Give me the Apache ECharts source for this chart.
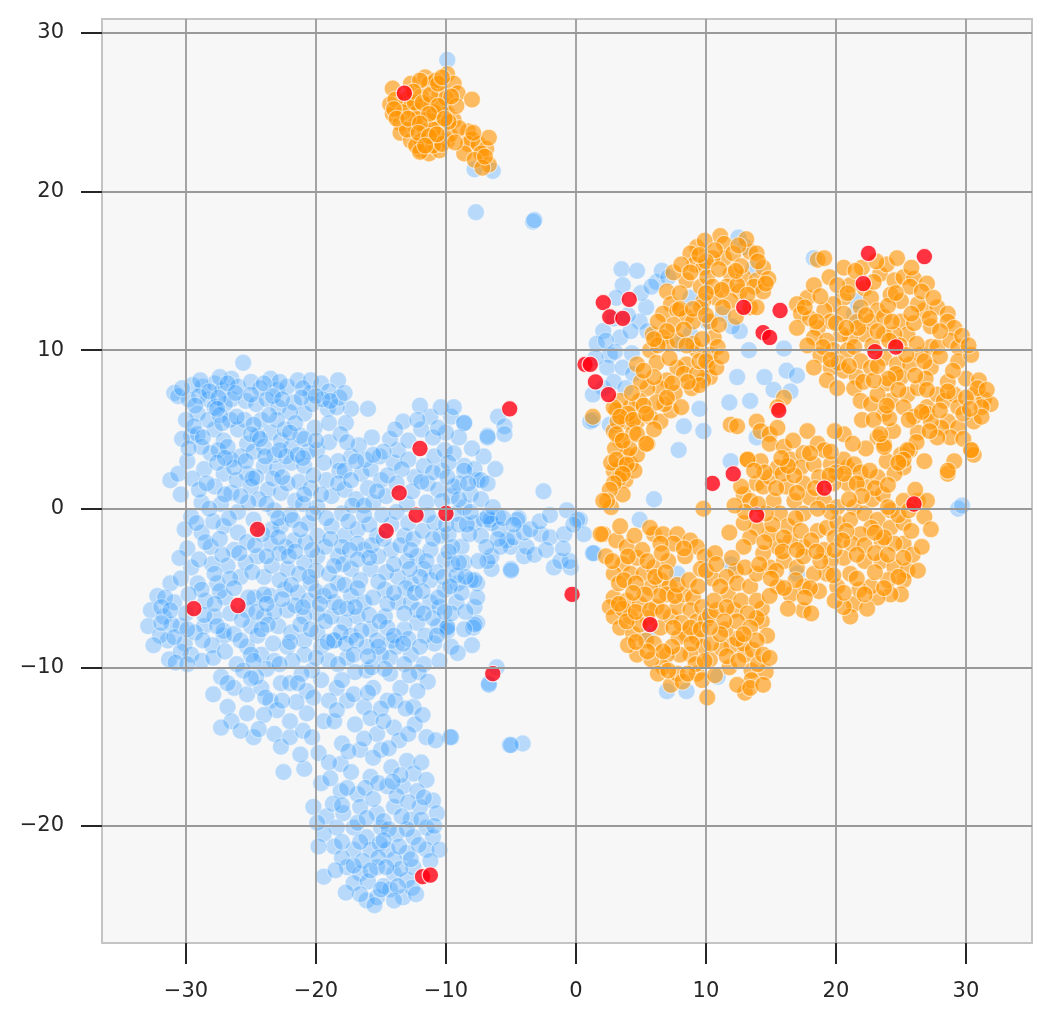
<!DOCTYPE html>
<html lang="en">
<head>
    <meta charset="UTF-8">
    <title>tsne scatter</title>
    <style>
        html, body {margin: 0; padding: 0; background: #ffffff;}
    </style>
</head>
<body>
<div id="chart" style="width: 1052px;height: 1024px"></div>
<script src="https://cdn.jsdelivr.net/npm/echarts@6/dist/echarts.min.js"></script>
<script>
    // axis ticks
    const xTicks = [-30, -20, -10, 0, 10, 20, 30]
    const yTicks = [-20, -10, 0, 10, 20, 30]

    // blue group (background points)
    const bluePoints = [
        [-30.9,7.3],[-30.6,7.1],[-25.6,9.2],[-28.7,7.7],[-27.8,7.9],[-26.5,8.2],[-27.2,7.5],[-28.3,6.9],[-29.1,6.0],[-27.8,6.4],[-26.5,6.9],[-26.0,7.7],
        [-23.5,8.2],[-23.0,7.5],[-22.2,7.7],[-21.4,8.1],[-20.4,8.1],[-20.4,7.3],[-21.7,6.7],[-20.9,6.0],[-19.1,6.3],[-18.3,8.1],[-17.3,6.3],
        [-29.6,4.6],[-29.1,4.7],[-27.8,5.0],[-27.1,4.3],[-26.0,5.0],[-25.3,4.1],[-24.2,5.6],[-23.5,4.8],[-22.7,4.3],[-21.9,3.9],[-21.2,4.6],[-22.4,5.0],[-24.5,4.6],[-25.8,3.3],[-26.5,3.1],[-28.1,3.5],[-28.6,2.5],[-31.2,1.8],[-30.6,2.2],
        [-27.1,2.2],[-25.3,2.2],[-24.0,2.7],[-23.0,2.5],[-21.9,2.9],[-20.9,2.7],[-19.9,3.7],[-23.7,1.2],[-22.7,1.0],[-22.2,1.6],[-26.5,1.0],[-27.8,1.4],[-28.8,0.4],
        [-19.9,0.1],[-18.8,0.8],[-17.8,1.2],[-17.3,3.3],[-16.5,2.2],[-15.8,2.5],[-15.0,1.8],[-14.0,2.9],[-13.7,3.7],[-12.9,4.3],[-12.9,3.1],[-12.4,2.0],[-11.7,2.7],[-11.4,1.6],[-10.6,1.2],[-10.9,3.3],[-10.1,3.7],[-9.6,5.8],[-11.2,5.8],[-10.4,6.4],[-9.4,6.4],[-8.6,5.4],[-6.8,4.6],[-6.0,5.8],[-5.5,5.2],[-7.6,1.8],[-8.6,2.7],[-9.6,0.8],[-8.6,0.1],[-7.8,-0.9],[-7.1,-0.7],[-6.5,-0.9],[-4.4,-0.6],[-5.0,-2.4],[-4.0,-3.0],[-5.0,-3.8],[-6.5,-3.8],[-7.6,-4.7],[-7.8,-6.2],[-7.6,-7.2],[-9.1,-4.7],[-10.1,-3.2],[-8.8,-2.4],[-10.4,-1.7],
        [-29.6,-0.5],[-30.1,-1.3],[-28.1,-2.4],[-27.1,-1.1],[-26.3,-2.6],[-26.8,-3.6],[-25.8,-4.3],[-27.6,-4.7],[-29.1,-4.7],[-31.2,-4.7],[-32.2,-5.5],[-32.7,-6.4],[-32.9,-7.4],[-31.7,-6.8],[-30.9,-5.9],[-30.4,-7.4],[-31.4,-8.3],[-30.1,-8.5],[-28.6,-7.4],[-27.8,-6.8],[-27.1,-8.0],[-25.3,-6.4],[-25.0,-7.4],[-24.0,-6.8],[-23.5,-5.5],[-24.0,-4.3],[-24.5,-3.0],[-23.5,-2.2],[-22.7,-1.1],[-21.7,-2.0],[-20.6,-0.9],[-19.9,-1.7],[-18.8,-1.1],[-17.8,-1.7],[-16.8,-1.3],[-16.3,-2.6],[-15.3,-1.7],[-14.2,-2.6],[-13.2,-1.7],[-12.2,-3.0],[-11.2,-2.6],[-11.7,-3.8],[-12.7,-4.7],[-13.7,-4.3],[-14.7,-5.1],[-15.8,-3.8],[-17.3,-3.8],[-18.3,-3.0],[-19.9,-3.0],[-20.9,-3.4],[-22.2,-3.8],[-22.4,-5.1],[-21.4,-5.3],[-20.4,-4.7],[-19.4,-5.5],[-18.3,-4.7],[-17.3,-5.5],[-16.3,-5.9],[-16.8,-6.8],[-17.8,-7.2],[-18.8,-6.8],[-19.9,-6.6],[-20.9,-6.8],[-22.2,-6.4],[-22.9,-7.4],[-21.9,-7.8],[-20.9,-8.3],[-19.9,-7.8],[-18.6,-8.3],[-17.3,-8.0],[-15.8,-7.6],[-14.7,-6.8],[-13.7,-5.9],[-12.7,-5.9],[-12.2,-7.2],[-13.2,-7.6],[-14.2,-8.3],[-11.2,-4.5],[-10.1,-5.1],[-11.2,-5.9],[-10.6,-7.4],[-9.9,-7.4],[-8.1,-4.5],[-6.5,-3.0],[-8.6,-3.4],
        [-7.1,3.3],[-7.8,2.5],[-7.3,-1.7],[-6.0,-0.5],
        [-29.6,-9.2],[-28.8,-9.6],[-27.3,-10.6],[-27.1,-7.7],[-25.3,-8.7],[-24.2,-9.2],[-23.2,-9.6],[-22.2,-8.7],[-20.9,-9.2],[-19.6,-8.7],[-18.6,-8.3],[-17.6,-9.4],[-16.1,-8.7],[-15.0,-9.2],[-13.8,-8.7],[-12.7,-9.2],[-11.7,-9.8],[-10.9,-8.5],[-7.9,-7.5],[-9.9,-7.7],
        [-26.3,-11.3],[-25.3,-11.7],[-24.2,-11.3],[-23.5,-12.1],[-22.7,-11.0],[-22.0,-11.0],[-25.3,-12.9],[-26.8,-12.5],[-26.5,-13.4],[-24.8,-14.4],[-23.2,-14.2],[-22.7,-15.0],[-22.0,-14.4],[-20.7,-12.9],[-19.4,-13.4],[-18.6,-13.4],[-20.7,-11.5],[-19.6,-10.8],[-18.4,-11.3],[-17.6,-12.1],[-16.3,-12.5],[-15.6,-11.3],[-14.5,-12.1],[-13.5,-11.3],[-12.5,-12.5],[-14.3,-10.4],[-16.1,-10.2],[-15.3,-14.2],[-14.0,-13.8],[-11.5,-14.4],[-9.7,-14.4],
        [-22.5,-16.6],[-20.9,-16.4],[-18.1,-16.1],[-16.6,-15.2],[-15.0,-15.2],[-13.0,-15.9],[-12.5,-16.7],[-11.5,-17.1],[-11.0,-18.4],[-10.7,-19.2],[-12.0,-18.8],[-13.3,-17.5],[-14.5,-17.5],[-15.8,-16.9],[-16.8,-18.0],[-18.1,-17.8],[-19.6,-17.3],[-20.2,-18.8],[-19.2,-19.4],[-17.9,-19.2],[-16.6,-18.8],[-15.3,-19.2],[-14.0,-18.8],[-12.7,-19.6],[-11.5,-20.1],[-11.0,-20.7],[-12.5,-20.7],[-13.8,-20.5],[-15.0,-20.1],[-16.1,-20.7],[-17.1,-20.1],[-18.4,-20.1],[-19.4,-20.5],[-18.6,-21.3],[-17.1,-21.5],[-15.8,-21.5],[-14.5,-21.5],[-13.0,-21.7],[-11.5,-21.5],[-10.5,-21.5],[-17.6,-22.6],[-16.6,-23.0],[-15.3,-22.6],[-14.0,-23.0],[-13.0,-23.4],[-12.5,-22.6],[-19.4,-23.2],[-16.1,-24.7],[-15.3,-24.5],[-13.3,-24.5],[-14.8,-23.8],[-17.1,-23.6],
        [-5.1,-14.9],[-4.1,-14.8],[-6.7,-11.0],[-6.1,-10.0],
        [-8.6,5.4],[-6.8,4.5],[-5.5,4.7],[-9.4,3.5],[-8.6,2.4],[-7.3,1.8],[-6.8,1.6],[-2.5,1.1],[-8.1,0.9],[-6.6,-0.7],[-4.5,-0.7],[-5.3,-2.0],[-4.8,-1.8],[-3.8,-2.4],[-5.0,-3.9],[-2.7,-1.6],[-2.0,-1.8],[-0.9,-1.6],[-0.7,-0.1],[0.3,-0.7],[1.4,-2.8],[-1.7,-3.7],[-1.2,-3.3],[-0.4,-3.7],[-7.8,-4.5],[-7.6,-5.6],[-7.8,-7.3],[-9.9,-7.5],[-6.8,-0.5],[-5.8,-2.4],[-6.8,-3.3],[-6.7,-11.1],[-9.6,-14.4],[-5.0,-14.9],
        [-9.9,28.3],[-7.8,21.4],[-6.4,21.3],[-7.7,18.7],[-3.3,18.1],[-3.2,18.2],
        [3.5,15.1],[4.7,15.0],[3.6,14.1],[6.2,14.3],[5.4,12.7],[4.9,11.8],[2.1,11.2],[1.6,10.4],[2.6,9.7],[3.4,10.8],[4.2,11.2],[2.4,8.9],[3.6,8.9],[4.4,8.5],[2.1,7.6],[1.3,7.2],[1.1,5.5],[2.6,5.3],[5.5,11.2],[8.0,10.4],[10.1,11.8],[8.8,11.0],[12.5,17.1],[13.0,16.5],[13.7,15.2],[18.3,15.8],[12.6,11.2],[12.4,8.3],[13.4,6.8],[16.2,8.7],[17.0,8.4],[16.5,7.4],[9.8,4.9],[7.9,3.7],[11.9,3.0],[13.9,4.5],[21.4,12.3],[21.6,13.1],
        [1.3,5.6],[6.0,0.6],[29.4,0.0],[29.7,0.2],[0.1,-0.7],[0.6,-1.6],[1.3,-2.8],[-0.5,-3.3],[4.9,-0.7],[7.8,-4.1],[11.9,-3.5],[17.0,-4.1],[10.9,-10.6],[7.0,-11.5],[8.5,-11.5],[5.5,-7.9],
        [-29.5,7.8],[-28.9,8.1],[-27.4,8.3],[-26.8,7.9],[-25.0,8.0],[-24.3,7.6],[-22.8,8.0],[-21.0,7.6],[-19.6,7.9],[-19.0,7.4],
        [-29.8,6.9],[-29.0,7.1],[-27.0,6.6],[-25.4,6.8],[-24.6,6.6],[-23.8,6.9],[-22.9,6.4],[-22.0,6.1],[-20.3,6.6],[-19.5,6.9],[-18.4,6.4],
        [-30.0,5.6],[-28.3,5.6],[-27.4,5.9],[-26.6,5.6],[-25.5,5.6],[-24.8,5.3],[-23.0,5.6],[-21.6,5.4],[-20.1,5.1],[-19.0,5.4],[-16.0,6.3],
        [-30.3,4.4],[-28.8,3.9],[-27.5,3.7],[-26.8,3.9],[-24.8,3.6],[-24.0,3.9],[-23.2,3.4],[-22.3,3.3],[-20.6,3.6],[-19.0,4.2],[-18.3,3.0],
        [-29.5,1.9],[-29.0,1.2],[-26.1,1.8],[-25.0,1.4],[-24.4,0.6],[-23.3,1.9],[-21.3,1.7],[-20.4,1.3],[-21.6,0.5],[-19.2,1.8],[-18.2,2.4],[-16.9,0.6],[-16.0,1.3],
        [-27.3,0.3],[-26.0,-0.2],[-25.2,0.4],[-23.2,-0.1],[-22.0,-0.4],[-21.0,0.3],[-18.0,-0.3],[-17.2,0.2],[-15.6,0.4],[-14.6,0.8],[-13.0,0.3],[-11.5,0.4],[-9.2,-0.3],
        [-28.8,-1.5],[-27.9,-0.8],[-26.0,-1.5],[-25.3,-2.1],[-23.4,-1.3],[-22.3,-2.4],[-20.8,-2.1],[-19.3,-2.4],[-18.0,-2.4],[-16.8,-2.2],[-15.9,-1.0],[-14.2,-1.0],[-13.5,-2.3],[-12.5,-1.9],[-11.8,-1.4],[-10.9,-0.9],[-9.8,-1.6],
        [-29.6,-3.7],[-28.0,-3.5],[-27.2,-2.9],[-25.4,-3.4],[-23.4,-3.6],[-22.8,-2.8],[-21.3,-4.1],[-20.0,-3.9],[-19.0,-4.1],[-17.9,-3.5],[-16.6,-4.5],[-15.2,-3.0],[-14.6,-4.0],[-13.0,-3.3],[-12.0,-4.3],[-10.7,-4.0],[-9.5,-3.5],
        [-31.6,-5.6],[-30.0,-6.6],[-28.5,-5.8],[-27.0,-5.6],[-26.6,-6.6],[-24.7,-5.6],[-23.2,-6.5],[-21.6,-6.1],[-20.6,-5.8],[-18.6,-5.9],[-17.6,-6.3],[-15.6,-5.6],[-14.5,-6.0],[-13.1,-5.0],[-12.2,-6.4],[-10.5,-6.2],[-9.2,-5.9],
        [-32.0,-8.0],[-31.1,-7.3],[-29.3,-7.8],[-28.0,-8.6],[-26.3,-7.9],[-24.5,-8.0],[-23.7,-7.3],[-21.2,-7.3],[-19.3,-7.1],[-18.1,-7.8],[-16.5,-7.7],[-15.3,-8.3],[-14.5,-7.5],[-12.9,-8.2],[-11.6,-8.0],[-11.0,-6.9],
        [-31.3,-9.5],[-30.4,-9.0],[-26.1,-9.8],[-25.0,-9.2],[-23.8,-10.1],[-21.8,-9.6],[-20.3,-10.2],[-19.0,-9.6],[-17.0,-10.3],[-15.7,-10.0],[-14.3,-9.4],[-13.2,-9.8],[-12.1,-10.3],[-10.5,-9.6],
        [-24.6,-10.6],[-23.0,-12.7],[-21.5,-12.2],[-21.0,-14.0],[-24.0,-13.0],[-25.8,-14.0],[-17.0,-13.6],[-16.3,-14.5],[-13.6,-14.6],[-12.4,-13.6],[-18.0,-14.8],[-19.8,-15.4],[-14.2,-16.3],[-17.3,-16.6],[-16.2,-17.6],[-13.8,-18.1],[-18.7,-18.6],[-15.6,-18.3],[-12.2,-17.8],[-14.8,-19.7],[-16.8,-19.8],[-13.0,-20.2],[-12.1,-21.2],[-14.0,-22.1],[-15.1,-21.1],[-16.4,-22.2],[-18.0,-22.0],[-13.5,-22.7],[-16.0,-23.5],[-14.3,-24.0],[-12.6,-23.9],[-15.5,-25.0],
        [-9.0,4.5],[-10.0,4.8],[-11.9,5.0],[-10.3,2.4],[-9.0,1.6],[-8.0,3.8],[-6.2,2.5],[-5.9,-1.3],[-4.0,-1.5],[-3.2,-2.9],[-2.3,-2.6],[-1.0,-2.5],[-0.2,-1.0],[-8.2,-1.6],[-9.5,-2.4],[-8.8,-5.3],[-9.6,-6.6],[-8.5,-6.5],[-12.0,6.5],[-13.3,5.5],[-14.3,4.4],[-15.7,4.5],[-16.7,4.0],[-17.7,5.4],[-18.2,7.0],
        [2.9,12.0],[3.1,13.3],[4.0,12.2],[5.0,13.6],[5.8,14.0],[6.6,15.0],[2.3,10.6],[3.0,9.9],[4.3,9.8],[1.5,9.5],[2.9,8.0],[3.8,7.6],[7.1,14.6],[8.8,13.3],[11.3,12.3],[12.0,11.5],[13.3,10.0],[16.0,10.1],[14.5,8.3],[15.2,7.5],[11.8,6.7],[9.5,6.3],[8.3,5.2],
        [-29.9,3.0],[-27.6,2.9],[-26.3,2.6],[-24.6,2.0],[-22.6,2.0],[-21.4,3.4],[-20.2,2.1],[-19.4,2.9],[-17.8,2.4],[-16.2,3.1],[-15.1,3.3],[-14.5,2.1],[-13.4,2.5],[-11.0,2.3],[-9.8,2.9],[-9.4,1.4],
        [-30.4,0.9],[-28.4,1.6],[-27.0,0.9],[-25.8,0.8],[-24.9,1.9],[-23.8,0.3],[-22.9,-0.6],[-20.9,0.9],[-19.6,0.9],[-18.3,1.6],[-17.3,1.8],[-16.3,0.2],[-15.3,1.1],[-13.8,1.6],[-12.6,1.1],[-11.9,1.7],[-10.3,0.5],[-9.0,0.6],
        [-29.2,-0.9],[-28.2,0.0],[-26.7,-0.6],[-24.8,-0.7],[-24.1,-1.6],[-21.8,-0.7],[-20.2,-0.3],[-19.2,-0.6],[-17.5,-0.8],[-16.3,-0.4],[-14.9,-0.4],[-13.8,-0.2],[-12.9,-0.9],[-11.4,-0.4],[-10.0,-1.0],[-9.0,-1.0],
        [-29.9,-2.5],[-28.5,-2.1],[-27.4,-1.9],[-25.9,-2.8],[-24.7,-2.3],[-22.9,-1.8],[-21.2,-1.3],[-20.3,-2.6],[-18.9,-1.9],[-17.4,-2.6],[-15.7,-2.3],[-14.8,-1.9],[-12.7,-2.6],[-11.0,-1.9],[-9.8,-2.7],[-8.4,-1.0],
        [-30.5,-3.1],[-29.0,-3.2],[-27.8,-4.1],[-26.6,-4.4],[-24.9,-4.0],[-23.8,-3.0],[-22.1,-3.0],[-21.6,-2.7],[-20.5,-4.3],[-18.6,-3.6],[-16.8,-3.2],[-15.9,-3.1],[-14.0,-3.5],[-12.8,-3.8],[-11.5,-3.3],[-10.2,-4.3],[-9.2,-4.2],
        [-30.4,-4.4],[-28.8,-5.1],[-27.4,-5.2],[-26.3,-5.0],[-25.2,-5.6],[-24.0,-5.4],[-22.8,-4.5],[-21.9,-4.8],[-20.0,-5.2],[-18.9,-5.2],[-17.8,-4.8],[-16.8,-5.0],[-15.2,-4.6],[-14.0,-5.3],[-12.4,-5.3],[-11.8,-5.2],[-10.6,-5.6],[-9.7,-4.9],
        [-31.9,-6.2],[-31.2,-6.4],[-29.8,-5.4],[-28.6,-6.7],[-27.8,-6.0],[-25.7,-7.0],[-24.6,-6.5],[-23.8,-6.0],[-22.6,-5.7],[-21.0,-6.2],[-19.7,-6.0],[-18.2,-6.2],[-17.0,-6.2],[-15.9,-6.7],[-15.1,-7.1],[-13.2,-6.6],[-11.7,-6.6],[-10.1,-6.5],
        [-32.5,-8.6],[-31.9,-7.2],[-30.9,-8.1],[-29.9,-7.6],[-28.7,-8.3],[-27.6,-7.4],[-25.8,-8.3],[-24.2,-7.6],[-23.3,-8.5],[-22.0,-8.4],[-20.4,-7.6],[-19.1,-8.4],[-17.7,-8.5],[-16.9,-8.3],[-15.2,-8.7],[-14.0,-8.0],[-13.3,-8.5],[-12.0,-8.7],[-10.7,-8.0],
        [-30.8,-9.7],[-29.9,-9.8],[-27.9,-9.4],[-27.0,-9.0],[-25.6,-10.2],[-24.8,-9.6],[-22.8,-9.8],[-21.1,-10.4],[-20.0,-9.4],[-18.3,-9.8],[-17.1,-9.2],[-16.0,-9.3],[-14.7,-10.1],[-12.8,-10.5],[-11.4,-10.9],[-9.6,-8.7],
        [-27.9,-11.7],[-26.8,-11.0],[-25.0,-10.7],[-23.9,-11.9],[-22.6,-12.1],[-21.4,-11.0],[-20.2,-11.9],[-19.0,-12.1],[-18.0,-10.8],[-17.1,-11.7],[-16.0,-11.6],[-15.0,-12.6],[-13.9,-12.1],[-13.1,-12.6],[-12.2,-11.5],[-11.8,-13.0],[-27.3,-13.8],[-24.4,-13.9],[-22.0,-13.4],[-20.3,-14.4],[-18.4,-12.7],[-15.8,-13.2],[-14.8,-13.4],[-12.9,-14.2],[-10.8,-14.6],
        [-21.2,-15.5],[-19.0,-16.0],[-17.5,-15.3],[-15.6,-15.7],[-14.4,-15.1],[-13.5,-16.8],[-11.9,-16.0],[-18.9,-17.0],[-17.6,-17.6],[-15.2,-17.3],[-14.1,-17.2],[-12.9,-18.5],[-11.7,-18.2],[-19.9,-19.8],[-18.0,-18.7],[-16.1,-19.5],[-14.4,-20.2],[-13.4,-19.4],[-11.9,-19.6],[-10.9,-20.0],[-19.8,-21.3],[-18.0,-21.0],[-16.6,-21.0],[-15.2,-22.0],[-14.8,-20.9],[-13.6,-21.3],[-12.7,-22.1],[-11.2,-22.2],[-18.5,-22.8],[-17.1,-22.5],[-15.8,-22.8],[-14.6,-22.6],[-13.7,-23.8],[-16.6,-24.3],[-15.0,-24.0],[-14.0,-24.7],[-17.7,-24.2],[-12.3,-24.3],
        [-30.3,7.6],[-29.3,6.5],[-28.2,7.4],[-27.5,7.0],[-26.2,7.3],[-25.0,7.2],[-24.0,7.9],[-23.3,7.1],[-22.6,6.9],[-21.1,7.0],[-20.0,7.1],[-18.9,6.8],[-17.8,7.3],[-29.4,5.2],[-28.7,4.5],[-27.2,5.4],[-26.1,5.8],[-25.0,4.7],[-24.3,4.4],[-23.6,5.9],[-22.0,4.8],[-20.9,4.4],[-20.0,4.3],[-18.1,4.7],[-29.8,3.8],[-27.0,3.2],[-25.4,3.0],[-23.9,3.3],[-22.8,3.7],[-21.0,3.2],[-27.6,6.3],
        [-12.2,5.6],[-11.0,4.5],[-10.6,5.1],[-9.9,2.0],[-8.3,1.6],[-8.1,-0.2],[-7.3,0.6],[-6.4,0.1],[-5.6,-0.6],[-4.8,-1.0],[-3.5,-1.3],[-2.8,-0.8],[-2.0,-0.4],[-6.0,-1.9],[-6.9,-2.4],[-7.5,-3.3],[-8.5,-4.3],[-9.0,-3.4],[-8.6,-7.6],[-8.0,-8.6],[-9.1,-9.1],[-14.8,3.6],[-15.6,3.4],[-16.9,3.0],[-17.6,4.2],[-13.9,5.0]
    ]

    // orange group
    const orangePoints = [
        [-14.1,26.5],[-14.3,25.5],[-14.1,24.9],[-13.5,24.3],[-13.5,23.7],[-12.7,26.8],[-11.6,27.2],[-11.3,26.8],[-9.9,27.4],[-9.4,26.8],[-9.1,26.2],[-10.5,26.2],[-11.9,26.0],[-12.7,25.3],[-12.1,25.1],[-11.3,25.5],[-10.2,25.5],[-9.9,24.9],[-10.5,24.7],[-11.6,24.5],[-12.4,24.1],[-11.6,23.8],[-10.5,24.1],[-9.4,24.5],[-12.7,23.2],[-11.9,23.2],[-10.8,23.4],[-9.9,23.2],[-9.7,23.6],[-11.9,22.6],[-11.3,22.4],[-10.5,22.6],[-8.3,23.8],[-8.0,23.3],[-8.3,23.0],[-7.5,23.0],[-6.9,22.7],[-7.3,22.4],[-6.7,23.4],[-6.7,21.7],[-8.0,25.8],
        [-13.0,25.8],[-10.8,27.0],[-12.3,24.6],[-10.0,25.9],[-11.0,23.9],[-13.9,25.8],
        [-13.3,25.0],[-12.0,27.0],[-10.9,25.0],[-9.2,25.4],[-11.0,22.9],[-12.3,22.9],[-9.0,24.0],[-13.0,23.9],[-10.3,23.0],[-8.6,22.4],[-7.8,22.0],[-7.2,21.5],
        [-14.0,25.2],[-13.8,24.6],[-12.9,24.6],[-12.4,25.6],[-12.5,26.3],[-11.8,25.6],[-11.2,26.1],[-10.6,26.8],[-10.3,27.2],[-9.6,26.0],[-9.8,24.4],[-10.6,25.4],[-11.3,24.9],[-12.0,24.3],[-12.1,23.7],[-11.3,23.5],[-10.1,24.6],[-9.3,23.1],[-10.7,23.6],[-12.0,22.5],[-11.6,22.9],[-7.9,23.7],[-7.0,22.2],
        [11.1,17.2],[11.4,16.7],[9.3,16.5],[8.8,16.1],[9.1,15.4],[9.8,15.2],[8.5,14.4],[9.6,14.0],[10.1,14.6],[11.4,15.8],[12.1,16.1],[13.4,16.2],[13.9,16.1],[11.9,14.8],[12.9,14.6],[13.9,14.4],[14.4,15.2],[11.6,14.0],[12.6,13.7],[13.7,14.0],[14.4,13.7],[10.8,13.3],[11.9,13.1],[13.4,12.7],[13.9,12.7],
        [7.0,13.7],[7.3,12.9],[6.7,12.3],[7.8,12.5],[8.5,12.1],[9.8,13.1],[9.6,12.7],[10.3,11.8],[7.5,11.6],[5.9,11.0],[6.7,10.8],[7.0,10.4],[7.8,10.6],[9.3,10.0],[10.6,10.8],[10.3,9.7],[10.1,8.9],[10.3,8.3],[9.8,8.1],[8.5,9.1],[7.8,8.9],[7.0,8.1],[6.5,7.6],[8.3,8.5],[9.3,8.5],[4.7,9.1],[5.7,10.0],[5.5,7.6],[4.9,6.8],[4.2,6.4],[3.4,6.8],[3.1,6.2],[3.9,5.5],[4.7,5.5],[5.7,5.8],[6.5,5.5],[7.3,6.2],[2.9,4.9],[3.4,4.3],[3.9,3.4],[5.5,4.1],[4.2,2.8],[3.4,2.6],[1.3,5.8],
        [10.5,15.8],[12.7,15.3],[13.1,17.0],[8.0,13.6],[9.0,11.8],[11.3,12.7],[12.3,12.1],[10.9,10.2],[9.5,9.3],[8.9,7.6],[7.6,7.3],[6.2,9.2],[5.0,8.0],[4.3,7.3],[6.8,6.6],[8.1,6.4],[3.8,1.8],[2.9,2.4],[4.7,3.4],[7.5,14.9],[9.9,16.9],[8.1,15.4],[14.8,14.5],[14.0,15.6],[12.4,14.1],[10.5,14.0],[6.3,11.8],[7.2,9.5],[9.0,10.4],
        [10.7,16.3],[12.5,16.6],[10.0,15.6],[9.5,16.0],[11.0,15.1],[12.3,15.0],[13.2,13.5],[14.6,14.2],[11.2,13.8],[10.0,13.6],[8.8,14.9],[8.0,12.6],[9.0,12.6],[10.0,12.2],[11.0,11.6],[8.3,11.3],[7.0,11.2],[6.3,10.3],[6.0,10.7],[8.5,10.3],[9.7,10.7],[10.0,9.3],[9.5,7.8],[8.6,8.0],[7.4,7.9],[6.0,8.3],[5.2,8.7],[6.2,6.7],[5.2,6.5],[4.0,6.0],[3.2,5.5],[4.4,4.8],[4.1,3.8],[3.0,3.8],[2.7,2.9],[3.3,1.9],[4.5,2.4],[2.7,0.1],[3.6,0.9],[6.0,5.0],[7.0,7.0],[10.8,8.9],[11.2,9.6],
        [11.9,5.3],[12.4,5.2],[13.9,5.5],[14.2,4.9],[14.9,4.7],[15.5,5.1],[16.0,7.0],[15.5,6.4],[17.8,4.9],[13.2,3.1],[14.2,3.0],
        [18.6,15.7],[19.1,15.8],[20.6,15.2],[22.2,13.9],[22.7,13.3],[23.4,14.8],[23.9,15.4],[24.5,14.4],[25.2,14.6],[26.0,14.5],[27.0,14.2],[25.7,14.0],[24.2,13.5],[25.0,13.1],[26.8,12.5],[26.3,12.9],[27.8,12.7],[28.6,12.3],[28.6,11.8],[29.1,11.4],[23.2,12.5],[21.9,12.7],[20.6,13.3],[19.8,12.9],[17.8,13.3],[17.0,12.9],[17.3,12.3],[19.1,12.5],[19.6,11.8],[20.6,12.3],[21.6,11.8],[22.7,11.8],[23.7,12.1],[25.0,11.8],[25.5,11.0],[24.5,11.0],[23.7,11.0],[22.2,11.0],[21.1,10.8],[20.4,11.0],[18.6,11.4],[18.3,10.8],[19.3,10.6],[17.0,11.4],[18.8,9.7],[19.8,10.0],[20.9,10.0],[21.4,10.2],[21.9,9.3],[22.7,8.9],[23.7,9.5],[24.7,9.1],[25.7,9.1],[26.5,9.7],[27.3,10.2],[27.8,10.2],[28.8,10.6],[29.4,10.2],[29.4,9.3],[30.4,9.7],[27.3,8.9],[18.3,8.9],[19.6,8.9],[20.6,8.7],[21.6,8.3],[19.3,8.1],[20.1,7.6],[21.4,7.6],[21.9,6.8],[23.9,7.9],[25.0,8.3],[25.5,7.2],[26.3,7.6],[24.2,6.8],[25.2,6.4],[26.0,5.8],[27.0,6.4],[27.8,7.2],[28.3,6.8],[29.1,7.2],[29.4,6.4],[30.6,7.2],[31.4,6.9],[31.9,6.6],[31.2,6.4],[30.6,5.5],[28.6,5.5],[28.1,5.1],[29.4,5.1],[28.8,4.5],[27.8,4.5],[30.4,3.7],[30.6,3.4],[27.0,6.0],[23.7,6.0],[22.7,6.6],[23.2,4.5],[23.7,4.1],[25.0,3.4],[25.7,3.7],[25.2,2.6],[28.6,2.2],[20.6,4.7],[20.9,2.6],
        [18.0,12.0],[18.3,14.1],[19.5,14.6],[21.1,14.1],[22.0,15.2],[24.7,15.8],[24.0,12.8],[26.0,11.7],[27.3,11.5],[28.0,9.6],[26.2,10.4],[24.9,10.3],[22.8,10.3],[21.7,11.4],[20.0,11.7],[19.0,10.2],[20.2,9.2],[22.1,8.0],[23.2,7.2],[24.6,8.5],[26.9,8.2],[28.6,8.0],[30.0,8.2],[29.8,6.0],[27.3,5.5],[26.3,4.8],[24.4,4.9],[24.1,5.7],[22.0,5.6],[31.0,8.1],[29.1,3.0],[26.8,3.0],[23.9,3.0],[22.3,3.8],[21.3,4.1],
        [17.6,12.7],[18.8,13.4],[20.1,14.1],[20.9,13.6],[21.5,15.0],[22.9,14.3],[23.1,15.6],[25.8,15.2],[24.6,13.6],[26.6,13.7],[27.5,13.3],[27.2,12.0],[28.0,11.2],[29.7,10.9],[30.2,10.3],[29.0,8.7],[30.9,7.6],[30.0,7.0],[28.6,7.4],[27.0,7.5],[26.1,8.4],[24.0,8.2],[22.9,8.1],[21.0,9.0],[19.6,9.4],[17.8,10.3],[18.5,11.8],[20.8,11.4],[22.3,12.2],[23.2,11.2],[24.3,11.8],[25.8,12.3],[24.1,10.6],[25.4,9.7],[26.8,9.3],[23.2,9.0],[24.8,7.5],[22.9,5.6],[23.9,6.5],[25.6,5.6],[26.6,6.1],[28.0,6.2],[27.2,4.9],[26.2,4.2],[29.8,4.4],[31.2,5.8],[31.6,7.5],[30.3,6.3],
        [2.9,6.4],[3.4,5.8],[4.4,5.6],[5.4,6.0],[3.1,4.7],[3.6,4.3],[4.7,4.7],[5.4,4.1],[3.1,3.1],[3.9,2.8],[3.6,2.2],[2.9,1.6],[2.6,1.2],[2.4,0.5],[2.1,0.5],[9.8,0.0],
        [2.1,-1.6],[3.1,-2.0],[3.9,-2.4],[4.7,-3.1],[3.6,-3.5],[2.9,-4.1],[4.2,-4.1],[5.2,-4.1],[6.0,-3.7],[6.5,-4.5],[7.2,-4.9],[2.9,-5.6],[2.6,-6.2],[3.9,-5.8],[4.9,-6.0],[6.2,-6.2],[7.0,-5.4],[2.9,-6.8],[3.4,-7.5],[4.2,-6.8],[4.4,-7.9],[4.7,-9.2],[5.4,-8.3],[6.5,-7.5],[7.3,-6.8],[7.8,-6.2],[8.3,-5.4],[9.0,-5.6],[8.8,-6.4],[9.3,-7.1],[8.5,-7.9],[9.3,-8.1],[9.8,-8.7],[8.8,-9.2],[8.0,-9.2],[7.0,-9.2],[6.7,-10.0],[7.3,-11.1],[7.8,-10.4],[9.3,-10.4],[10.3,-9.5],[10.1,-11.9],
        [6.0,-1.6],[5.7,-1.2],[6.7,-1.6],[7.8,-1.6],[8.8,-2.0],[9.3,-2.4],[7.5,-2.2],[6.5,-2.2],[1.9,-1.6],
        [3.4,-1.1],[4.5,-1.7],[5.1,-2.6],[4.0,-3.0],[2.3,-3.0],[3.3,-4.7],[5.7,-5.0],[6.4,-5.5],[5.5,-6.9],[3.6,-6.3],[4.9,-7.3],[6.0,-8.5],[7.9,-8.1],[8.1,-7.2],[7.6,-5.5],[9.7,-6.2],[10.0,-7.0],[9.2,-9.8],[8.2,-10.9],[5.8,-9.5],[4.0,-8.6],[7.1,-3.3],[8.4,-3.0],[9.9,-3.0],[10.5,-4.4],[12.0,-8.6],[13.0,-9.2],[13.5,-10.2],[11.2,-8.8],[11.8,-10.0],[12.2,-6.4],[14.3,-7.1],[14.6,-10.3],[13.0,-11.6],
        [2.8,-3.3],[3.7,-4.5],[4.6,-4.7],[5.5,-3.3],[6.1,-4.3],[6.9,-4.0],[7.8,-4.8],[8.7,-4.5],[9.4,-4.9],[9.6,-3.8],[8.3,-2.5],[6.6,-2.8],[5.3,-5.4],[4.4,-5.3],[3.3,-6.0],[3.9,-7.1],[4.6,-6.5],[5.7,-6.4],[6.7,-6.5],[7.5,-7.5],[8.8,-7.5],[9.6,-7.6],[10.3,-6.7],[10.4,-8.5],[9.9,-9.6],[8.9,-8.5],[7.4,-8.7],[6.7,-9.0],[5.5,-9.0],[4.6,-8.4],[6.3,-10.4],[7.1,-10.2],[8.6,-10.4],[9.7,-10.8],[10.7,-10.5],[11.6,-9.3],[12.5,-9.6],[12.9,-8.5],[13.6,-8.9],[12.4,-8.2],[11.5,-7.6],[10.8,-6.4],[11.7,-5.4],[12.3,-3.9],[10.7,-2.8],[10.0,-3.9],[14.3,-6.3],[14.7,-8.0],[14.0,-9.8],[13.5,-10.8],[13.9,-6.9],
        [10.8,-3.5],[11.6,-4.3],[12.4,-4.7],[11.1,-4.9],[10.6,-5.8],[11.6,-6.2],[12.7,-5.8],[13.4,-4.9],[13.9,-5.8],[13.2,-6.6],[12.4,-7.1],[11.4,-7.1],[13.4,-7.5],[13.9,-8.3],[14.4,-9.2],[14.9,-9.4],[12.9,-7.9],[12.4,-11.1],[13.4,-11.3],[14.4,-11.1],[11.1,-7.9],[10.3,-7.5],
        [13.2,3.1],[13.9,1.6],[12.9,0.9],[12.7,1.4],[13.4,0.5],[14.4,1.4],[14.9,2.0],[15.5,2.6],[14.9,4.1],[16.0,3.9],[16.5,3.1],[17.5,3.5],[18.6,4.1],[19.1,3.7],[17.3,2.6],[18.3,2.8],[19.6,2.8],[20.6,3.1],[21.4,2.8],[22.2,1.6],[20.9,1.6],[19.8,1.6],[17.5,1.6],[16.2,1.4],[15.2,0.5],[15.7,-0.3],[16.8,0.5],[18.0,0.7],[19.1,0.5],[20.1,0.1],[21.4,0.1],[17.5,-0.3],[18.6,-1.4],[19.3,-1.2],[20.1,-0.9],[21.1,-0.7],[22.2,-0.3],[23.2,-0.7],[24.2,-1.2],[25.2,-0.9],[25.2,-2.2],[24.5,-2.2],[23.5,-2.0],[22.7,-1.2],[21.9,-1.6],[22.2,-3.3],[23.5,-3.3],[24.5,-3.7],[25.5,-3.9],[26.3,-3.9],[25.2,-4.5],[25.0,-5.4],[24.2,-5.4],[23.2,-5.6],[22.7,-4.9],[21.4,-6.0],[21.1,-6.8],[20.1,-4.9],[21.1,-4.1],[20.6,-3.1],[19.6,-3.3],[19.1,-2.6],[19.3,-4.1],[18.3,-4.1],[17.5,-4.9],[16.5,-5.4],[15.5,-4.9],[14.9,-3.7],[16.0,-3.3],[17.0,-3.7],[17.5,-2.4],[16.5,-2.0],[15.5,-2.4],[14.4,-2.8],[14.9,-1.6],[13.9,-1.2],[13.4,-1.8],[12.9,-2.4],[12.9,-0.9],[13.9,-4.1],[17.5,-6.4],[23.7,-1.8],[26.3,0.5],[26.8,-0.5],[27.0,0.5],[25.2,0.5],[25.5,3.7],[25.2,3.1],[23.7,3.9],[23.2,2.0],[24.5,2.2],[28.6,2.4],[30.4,3.7],[23.4,4.7],[24.2,-0.1],[20.6,-6.2],
        [14.5,2.3],[15.9,2.2],[17.0,1.0],[18.7,2.0],[20.0,2.3],[21.9,2.3],[22.8,0.6],[23.6,0.9],[21.2,-2.2],[19.9,-1.8],[18.8,-3.3],[17.5,-3.0],[16.3,-1.1],[15.1,-1.0],[14.6,-0.3],[14.0,0.3],[13.0,-0.2],[12.2,0.2],[11.8,-1.5],[12.0,-3.1],[13.0,-3.7],[15.4,-3.9],[16.9,-4.5],[18.7,-5.2],[19.9,-5.8],[21.8,-5.1],[22.4,-6.3],[24.0,-4.5],[23.0,-4.0],[25.9,-2.9],[26.6,-2.4],[25.8,-1.4],[24.8,-0.4],[27.3,-1.3],[16.3,-6.3],[18.1,-6.6],[16.7,4.3],[19.9,4.9],
        [13.7,2.4],[15.4,1.3],[16.8,2.1],[18.4,1.3],[19.5,2.1],[20.6,2.2],[21.6,1.6],[22.6,2.4],[23.0,1.3],[24.0,1.5],[24.8,2.9],[22.0,0.8],[21.0,0.6],[19.6,-0.2],[18.6,0.0],[16.9,-0.6],[16.0,-1.8],[17.3,-1.4],[18.1,-2.0],[19.9,-2.6],[20.8,-1.4],[22.2,-2.3],[23.0,-2.8],[24.0,-2.9],[25.2,-3.1],[24.8,-4.3],[23.7,-5.0],[22.2,-5.4],[21.6,-4.4],[20.6,-5.3],[19.8,-4.2],[18.0,-5.0],[17.6,-5.6],[16.0,-5.0],[14.9,-5.5],[15.0,-4.4],[14.1,-3.5],[14.5,-2.1],[15.9,-2.7],[17.0,-2.6],[18.5,-2.7],[20.5,-2.0],[21.6,-2.9],[23.0,-1.5],[24.0,0.1],[25.6,-0.1],[26.1,1.2],[16.3,2.7],[18.0,3.5],[19.6,3.6],[15.8,3.2]
    ]

    // red highlighted points
    const redPoints = [
        [-13.2,26.2],[-5.1,6.3],[-12.0,3.8],[-13.6,1.0],[-12.3,-0.4],[-10.0,-0.3],[-14.6,-1.4],[-24.5,-1.3],[-29.4,-6.3],[-26.0,-6.1],
        [-11.8,-23.2],[-11.2,-23.1],[-6.4,-10.4],[-0.3,-5.4],
        [2.1,13.0],[4.1,13.2],[2.6,12.1],[3.6,12.0],[12.9,12.7],[15.7,12.5],[14.4,11.1],[14.9,10.8],[22.5,16.1],[26.8,15.9],[22.1,14.2],[23.0,9.9],[24.6,10.2],
        [0.7,9.1],[1.1,9.1],[1.5,8.0],[2.5,7.2],[15.6,6.2],[12.1,2.2],[10.5,1.6],[19.1,1.3],[13.9,-0.4],[26.0,0.3],[5.7,-7.3]
    ]

    const dom = document.getElementById("chart")
    const chart = echarts.init(dom)
    const fmt = v => v < 0 ? '\u2212' + Math.abs(v) : String(v)
    const gridLine = {color: '#999999', width: 1.8, type: 'solid'}
    const tickStyle = {color: '#262626', width: 2}

    chart.setOption({
        animation: false,
        grid: {
            left: 102, top: 19, width: 930, height: 924,
            show: true,
            backgroundColor: '#f7f7f7',
            borderColor: '#c4c4c4',
            borderWidth: 2
        },
        xAxis: {
            type: 'value',
            min: -36.46,
            max: 35.08,
            axisLine: {show: false, onZero: false},
            splitLine: {show: false},
            axisTick: {show: true, customValues: xTicks, length: 21, lineStyle: tickStyle},
            axisLabel: {
                customValues: xTicks, formatter: fmt, margin: 38,
                fontFamily: 'DejaVu Sans', fontSize: 21, color: '#262626'
            }
        },
        yAxis: {
            type: 'value',
            min: -27.38,
            max: 30.88,
            axisLine: {show: false, onZero: false},
            splitLine: {show: false},
            axisTick: {show: true, customValues: yTicks, length: 21, lineStyle: tickStyle},
            axisLabel: {
                customValues: yTicks, formatter: fmt, margin: 38,
                fontFamily: 'DejaVu Sans', fontSize: 21, color: '#262626'
            }
        },
        series: [
            {
                // grid lines at the tick values
                type: 'line',
                data: [],
                z: 1,
                silent: true,
                markLine: {
                    silent: true,
                    symbol: ['none', 'none'],
                    label: {show: false},
                    lineStyle: gridLine,
                    emphasis: {disabled: true},
                    data: xTicks.map(v => ({xAxis: v})).concat(yTicks.map(v => ({yAxis: v})))
                }
            },
            {
                type: 'scatter',
                z: 2,
                symbolSize: 17,
                silent: true,
                itemStyle: {color: 'rgba(30,144,255,0.36)', borderColor: 'rgba(255,255,255,0.5)', borderWidth: 1.2},
                data: bluePoints
            },
            {
                type: 'scatter',
                z: 3,
                symbolSize: 17,
                silent: true,
                itemStyle: {color: 'rgba(255,148,0,0.76)', borderColor: 'rgba(255,255,255,0.7)', borderWidth: 1.2},
                data: orangePoints
            },
            {
                type: 'scatter',
                z: 4,
                symbolSize: 16.5,
                silent: true,
                itemStyle: {color: '#ff0012', borderColor: '#ffffff', borderWidth: 1.2},
                data: redPoints
            }
        ]
    })
    window.addEventListener('resize', () => {
        chart.resize()
    })
</script>
</body>
</html>
